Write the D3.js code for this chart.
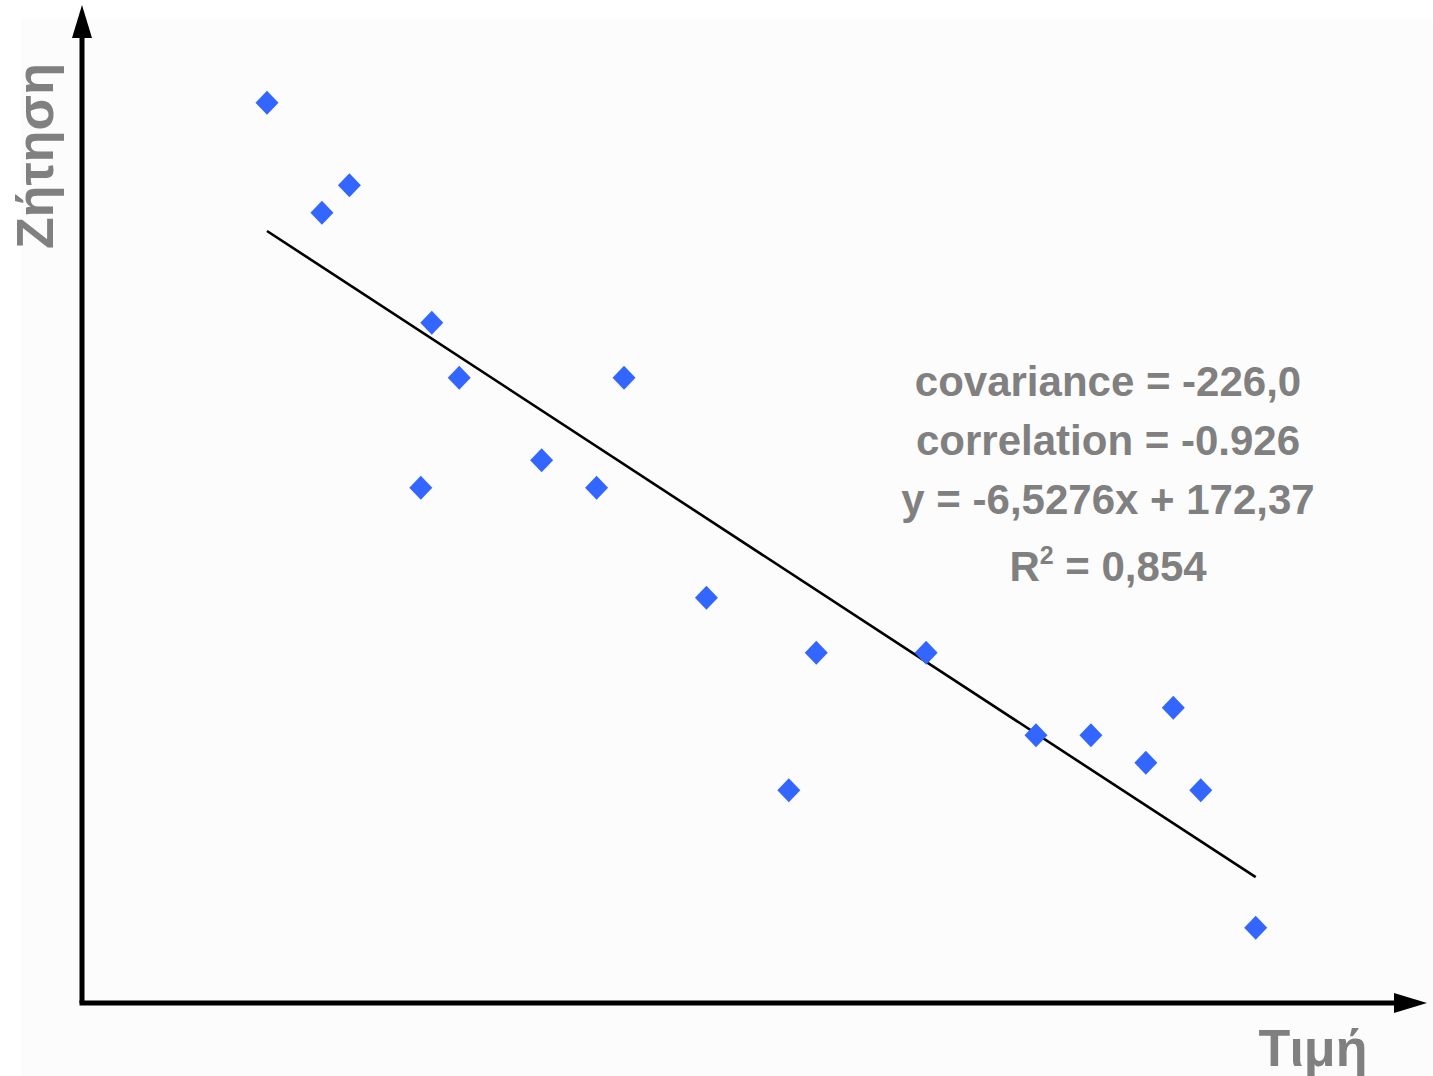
<!DOCTYPE html>
<html>
<head>
<meta charset="utf-8">
<script src="https://cdn.jsdelivr.net/npm/d3@7"></script>
<style>
  html, body { margin: 0; padding: 0; background: #ffffff; }
  svg { display: block; }
</style>
</head>
<body>
<svg id="chart" width="1433" height="1076"></svg>
<script>
// Price (Τιμή) and demand (Ζήτηση) observations
const price  = [7, 8, 8.5, 9.8, 10, 10.5, 12, 13, 13.5, 15, 16.5, 17, 19, 21, 22, 23, 23.5, 24, 25];
const demand = [150, 130, 135, 80, 110, 100, 85, 80, 100, 60, 25, 50, 50, 35, 35, 30, 40, 25, 0];

// Fitted trend line y = slope * x + intercept
const slope = -6.5276;
const intercept = 172.37;

// Summary statistics printed on the chart
const statLines = [
  "covariance = -226,0",
  "correlation = -0.926",
  "y = -6,5276x + 172,37"
];
const r2Value = "0,854";

const xLabel = "Τιμή";
const yLabel = "Ζήτηση";

const W = 1433, H = 1076;
const svg = d3.select("#chart");

// light panel behind the plot
svg.append("rect")
  .attr("x", 21).attr("y", 19)
  .attr("width", W - 21).attr("height", H - 19)
  .attr("fill", "#fcfcfc");

// Scales: data units to pixels
const x = d3.scaleLinear().domain([7, 25]).range([267, 1255.7]);
const y = d3.scaleLinear().domain([0, 150]).range([927.7, 102.7]);

// Axes drawn as plain arrows (no ticks)
const axisX = 82, axisY = 1003;
const axisG = svg.append("g");
axisG.append("line")
  .attr("x1", axisX).attr("y1", axisY)
  .attr("x2", axisX).attr("y2", 36)
  .attr("stroke", "#000").attr("stroke-width", 5);
axisG.append("path")
  .attr("d", `M${axisX},5 L${axisX - 10},38 L${axisX + 10},38 Z`)
  .attr("fill", "#000");
axisG.append("line")
  .attr("x1", axisX - 2.5).attr("y1", axisY)
  .attr("x2", 1396).attr("y2", axisY)
  .attr("stroke", "#000").attr("stroke-width", 5);
axisG.append("path")
  .attr("d", `M1427,${axisY} L1394,${axisY - 10} L1394,${axisY + 10} Z`)
  .attr("fill", "#000");

// Trend line across the observed price range
const [x0, x1] = d3.extent(price);
svg.append("line")
  .attr("x1", x(x0)).attr("y1", y(slope * x0 + intercept))
  .attr("x2", x(x1)).attr("y2", y(slope * x1 + intercept))
  .attr("stroke", "#000").attr("stroke-width", 2.6);

// Diamond markers
const rx = 11.5, ry = 12;
const diamondPath = `M0,${-ry} L${rx},0 L0,${ry} L${-rx},0 Z`;
svg.append("g").selectAll("path")
  .data(price.map((p, i) => ({ p, q: demand[i] })))
  .join("path")
  .attr("d", diamondPath)
  .attr("transform", d => `translate(${x(d.p)},${y(d.q)})`)
  .attr("fill", "#3366ff");

// Axis titles
const labelFont = "'Liberation Sans', Arial, sans-serif";
svg.append("text")
  .attr("transform", "translate(53,156) rotate(-90)")
  .attr("text-anchor", "middle")
  .attr("font-family", labelFont)
  .attr("font-weight", "bold")
  .attr("font-size", 52)
  .attr("fill", "#808080")
  .text(yLabel);

svg.append("text")
  .attr("x", 1313).attr("y", 1066)
  .attr("text-anchor", "middle")
  .attr("font-family", labelFont)
  .attr("font-weight", "bold")
  .attr("font-size", 52)
  .attr("fill", "#808080")
  .text(xLabel);

// Statistics block
const statG = svg.append("g")
  .attr("font-family", labelFont)
  .attr("font-weight", "bold")
  .attr("font-size", 42)
  .attr("fill", "#808080")
  .attr("text-anchor", "middle");
const baselines = [396, 455, 514];
statLines.forEach((s, i) => {
  statG.append("text").attr("x", 1108).attr("y", baselines[i]).text(s);
});
const r2 = statG.append("text").attr("x", 1108).attr("y", 581);
r2.append("tspan").text("R");
r2.append("tspan").attr("font-size", 25).attr("dy", -17).text("2");
r2.append("tspan").attr("dy", 17).text(" = " + r2Value);
</script>
</body>
</html>
